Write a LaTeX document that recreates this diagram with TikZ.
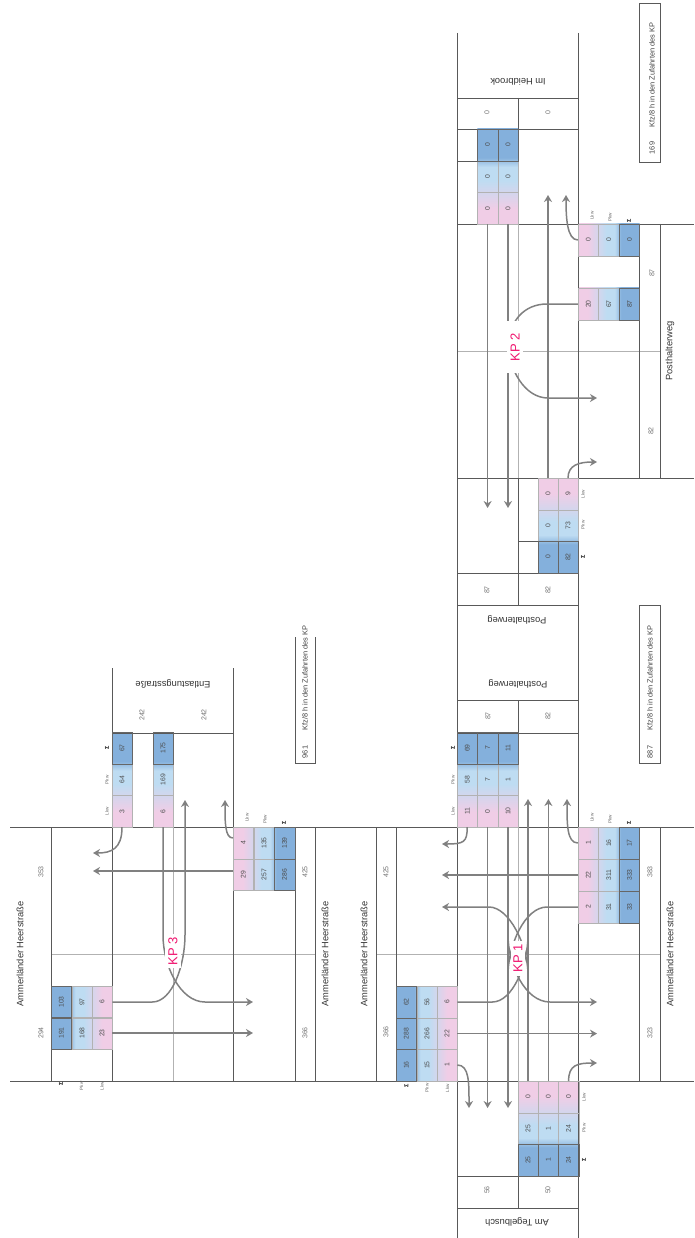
\documentclass[tikz,border=0pt]{standalone}
\usepackage{fontspec}
\setmainfont{Liberation Sans}
\usetikzlibrary{arrows.meta}
\definecolor{lkwpink}{HTML}{F0CDE6}
\definecolor{pkwblue}{HTML}{BEDCF2}
\definecolor{sumblue}{HTML}{84B0DC}
\definecolor{kpred}{HTML}{F0146E}
\pgfdeclareverticalshading{tablecolours}{100bp}{color(0bp)=(lkwpink); color(33bp)=(lkwpink); color(48bp)=(pkwblue); color(55bp)=(pkwblue); color(60bp)=(sumblue); color(100bp)=(sumblue)}
\begin{document}
\begin{tikzpicture}[x=1pt,y=-1pt,
    roadline/.style={draw=black!65,line width=.7pt},
    midline/.style={draw=black!30,line width=.7pt},
    lkwdown/.style={shading=tablecolours},
    lkwup/.style={shading=tablecolours,shading angle=180},
    lkwright/.style={shading=tablecolours,shading angle=90},
    lkwleft/.style={shading=tablecolours,shading angle=270},
    cell/.style={rotate=90,draw=black!30,line width=.3pt,minimum width=31.6pt,minimum height=20.4pt,inner sep=0pt,text=black!70,font=\fontsize{6.8}{7}\selectfont},
    sumcell/.style={cell,draw=black!60,line width=.4pt},
    flow/.style={draw=black!50,line width=1.5pt,-{Stealth[length=7pt,width=8pt]}},
    plain/.style={draw=black!50,line width=1.5pt},
    armcount/.style={rotate=90,text=black!55,inner sep=0pt,font=\fontsize{7}{8}\selectfont},
    collabel/.style={rotate=90,text=black!60,inner sep=0pt,font=\fontsize{4.6}{5}\selectfont},
    sumlabel/.style={rotate=90,text=black,inner sep=0pt,font=\fontsize{5.5}{6}\selectfont\bfseries},
    roadname/.style={rotate=90,text=black!80,inner sep=0pt,font=\fontsize{9.3}{10}\selectfont},
    armname/.style={rotate=180,text=black!80,inner sep=0pt,font=\fontsize{9.3}{10}\selectfont},
    kp/.style={rotate=90,fill=white,text=kpred,inner xsep=3pt,inner ysep=3pt,font=\fontsize{13}{14}\selectfont},
    boxtext/.style={rotate=90,text=black!75,inner sep=0pt,font=\fontsize{7.4}{8}\selectfont}]
\useasboundingbox (0,0) rectangle (694,1238);

% colours of the tables
\shade[lkwdown] (112,733) rectangle (132,827);
\shade[lkwdown] (153,733) rectangle (173,827);
\shade[lkwdown] (457,733) rectangle (518,827);
\shade[lkwdown] (477.4,129) rectangle (518,224);
\shade[lkwleft] (233,827) rectangle (295,890);
\shade[lkwleft] (578,827) rectangle (639.5,923);
\shade[lkwleft] (578,224) rectangle (639.5,256);
\shade[lkwleft] (578,288) rectangle (639.5,320);
\shade[lkwup] (518,1081) rectangle (578.6,1176);
\shade[lkwup] (538,478) rectangle (578,573);
\shade[lkwright] (51,986) rectangle (112,1049);
\shade[lkwright] (396,986) rectangle (457,1081);

% lines of the roads
\draw[roadline] (10,827) -- (694,827);
\draw[roadline] (10,1081) -- (694,1081);
\draw[roadline] (457,224) -- (694,224);
\draw[roadline] (457,478) -- (694,478);
\draw[midline] (51,954) -- (315,954);
\draw[midline] (376,954) -- (660,954);
\draw[midline] (457,351) -- (660,351);
\draw[midline] (173,827) -- (173,1081);
\draw[midline] (518,827) -- (518,1081);
\draw[midline] (518,224) -- (518,478);
\foreach \x in {51,295,315,376,396,639,660}
    \draw[roadline] (\x,827) -- (\x,1081);
\draw[roadline] (639,224) -- (639,478);
\draw[roadline] (660,224) -- (660,478);
\draw[roadline] (112,668) -- (112,1081);
\draw[roadline] (233,668) -- (233,1081);
\draw[roadline] (457,33) -- (457,1238);
\draw[roadline] (578,33) -- (578,1238);
\draw[roadline] (112,733) -- (233,733);
\foreach \y in {98,129,573,605,700,733,1176,1208}
    \draw[roadline] (457,\y) -- (578,\y);
\draw[roadline] (518,98) -- (518,129);
\draw[roadline] (457,161) -- (518,161);
\draw[roadline] (518,478) -- (518,605);
\draw[roadline] (518,541) -- (538,541);
\draw[roadline] (518,700) -- (518,733);
\draw[roadline] (518,1176) -- (518,1208);

% KP 3
\foreach \r/\x/\l/\p/\s in {1/122/3/64/67,2/163/6/169/175} {
    \node[cell] (k3el\r) at (\x,811.2) {\l};
    \node[cell] (k3ep\r) at (\x,779.6) {\p};
    \node[sumcell] (k3es\r) at (\x,748) {\s};
}
\foreach \r/\y/\l/\p/\s in {1/843/4/135/139,2/874.6/29/257/286} {
    \node[cell] (k3sl\r) at (243.2,\y) {\l};
    \node[cell] (k3sp\r) at (264,\y) {\p};
    \node[sumcell] (k3ss\r) at (284.6,\y) {\s};
}
\foreach \r/\y/\l/\p/\s in {1/1002/6/97/103,2/1033/23/168/191} {
    \node[cell] (k3nl\r) at (102,\y) {\l};
    \node[cell] (k3np\r) at (82,\y) {\p};
    \node[sumcell] (k3ns\r) at (61.4,\y) {\s};
}

% KP 1
\foreach \r/\x/\l/\p/\s in {1/467.2/11/58/69,2/487.6/0/7/7,3/508/10/1/11} {
    \node[cell] (k1el\r) at (\x,811.2) {\l};
    \node[cell] (k1ep\r) at (\x,779.6) {\p};
    \node[sumcell] (k1es\r) at (\x,748) {\s};
}
\foreach \r/\y/\l/\p/\s in {1/843/1/16/17,2/875/22/311/333,3/907/2/31/33} {
    \node[cell] (k1sl\r) at (588.2,\y) {\l};
    \node[cell] (k1sp\r) at (608.8,\y) {\p};
    \node[sumcell] (k1ss\r) at (629.4,\y) {\s};
}
\foreach \r/\y/\l/\p/\s in {1/1002/6/56/62,2/1033.6/22/266/288,3/1065/1/15/16} {
    \node[cell] (k1nl\r) at (447,\y) {\l};
    \node[cell] (k1np\r) at (427,\y) {\p};
    \node[sumcell] (k1ns\r) at (406.4,\y) {\s};
}
\foreach \r/\x/\l/\p/\s in {1/528/0/25/25,2/548.4/0/1/1,3/568.6/0/24/24} {
    \node[cell] (k1wl\r) at (\x,1097) {\l};
    \node[cell] (k1wp\r) at (\x,1128.5) {\p};
    \node[sumcell] (k1ws\r) at (\x,1160) {\s};
}

% KP 2
\foreach \r/\x/\l/\p/\s in {1/487.6/0/0/0,2/508/0/0/0} {
    \node[cell] (k2el\r) at (\x,208.2) {\l};
    \node[cell] (k2ep\r) at (\x,176.6) {\p};
    \node[sumcell] (k2es\r) at (\x,145) {\s};
}
\foreach \r/\y/\l/\p/\s in {1/240/0/0/0,2/304/20/67/87} {
    \node[cell] (k2sl\r) at (588.2,\y) {\l};
    \node[cell] (k2sp\r) at (608.8,\y) {\p};
    \node[sumcell] (k2ss\r) at (629.4,\y) {\s};
}
\foreach \r/\x/\l/\p/\s in {1/548/0/0/0,2/568/9/73/82} {
    \node[cell] (k2wl\r) at (\x,494) {\l};
    \node[cell] (k2wp\r) at (\x,525.5) {\p};
    \node[sumcell] (k2ws\r) at (\x,557) {\s};
}

% Lkw, Pkw, Sigma at the tables
\foreach \n/\x in {k3e/107,k1e/453} {
    \node[collabel] (\n lkw) at (\x,811) {Lkw};
    \node[collabel] (\n pkw) at (\x,780) {Pkw};
    \node[sumlabel] (\n sum) at (\x,748) {Σ};
}
\foreach \n/\h/\y in {k3s/233/825,k1s/578/825,k2s/578/223} {
    \node[collabel,anchor=west] (\n lkw) at (\h+14,\y-3) {Lkw};
    \node[collabel,anchor=west] (\n pkw) at (\h+32,\y-1) {Pkw};
    \node[sumlabel,anchor=west] (\n sum) at (\h+51,\y) {Σ};
}
\foreach \n/\h/\y in {k3n/61/1086,k1n/406.5/1088} {
    \node[sumlabel] (\n sum) at (\h,\y-2) {Σ};
    \node[collabel] (\n pkw) at (\h+20.5,\y) {Pkw};
    \node[collabel] (\n lkw) at (\h+41,\y) {Lkw};
}
\foreach \n/\x/\y in {k1w/584/1081,k2w/583/478} {
    \node[collabel] (\n lkw) at (\x,\y+16) {Lkw};
    \node[collabel] (\n pkw) at (\x,\y+47) {Pkw};
    \node[sumlabel] (\n sum) at (\x,\y+79) {Σ};
}

% traffic at the arms
\foreach \n/\x/\y/\t in {c1/142/715/242,c2/204/715/242,c3/41/872/353,c4/305/872/425,c5/41/1033/294,c6/305/1033/366,
    c7/386/872/425,c8/650/872/383,c9/386/1032/366,c10/650/1033/323,c11/488/716/87,c12/548/716/82,c13/487/1190/56,c14/548/1190/50,
    c15/652/273/87,c16/651/431/82,c17/487/113/0,c18/548/113/0,c19/487/590/87,c20/548/590/82}
    \node[armcount] (\n) at (\x,\y) {\t};

% names of the roads
\foreach \n/\x in {ra/20,rb/325,rc/364,rd/670}
    \node[roadname] (\n) at (\x,954) {Ammerländer Heerstraße};
\node[roadname] (re) at (670,351) {Posthalterweg};
\node[armname] (rf) at (173,684) {Entlastungsstraße};
\node[armname] (rg) at (518,684) {Posthalterweg};
\node[armname] (rh) at (517,620) {Posthalterweg};
\node[armname] (ri) at (518,82) {Im Heidbrook};
\node[armname] (rj) at (517,1222) {Am Tegelbusch};

% ends of the arrows
\foreach \n/\x/\y in {t3e/93/853,t3s/93/871,t3a/185/800,t3b/225/800,t3c/253/1002,t3d/253/1033,
    t1a/442/844,t1b/442/875,t1c/442/907,t1d/469/1108,t1e/487.6/1108,t1f/508/1108,t1g/528/799,t1h/548.4/799,t1i/567/799,t1j/597/1002,t1k/597/1033.6,t1l/597/1063,
    t2a/487.6/508,t2b/508/508,t2c/548/195,t2d/566/195,t2e/597/398,t2f/597/462,
    b1a/508/935,b1b/528/975,b1c/528/935,b1d/508/975,b2a/508/340,b2b/508/350}
    \coordinate (\n) at (\x,\y);

% KP 3 arrows
\draw[flow] (k3el1.west) .. controls +(0,22) and +(18,0) .. (t3e);
\draw[flow] (k3sl2.north |- t3s) -- (t3s);
\draw[flow] ([yshift=5pt]k3sl1.north) .. controls +(-8,0) and +(0,22) .. (t3b);
\draw[flow] (k3el2.west) -- ++(0,108) .. controls +(0,30) and (180,1002) .. (205,1002) -- (t3c);
\draw[flow] (k3nl1.south) -- ++(40,0) .. controls +(20,0) and (185,965) .. (185,935) -- (t3a);
\draw[flow] (k3nl2.south) -- (t3d);

% KP 1 arrows
\draw[flow] (k1el1.west) .. controls +(0,15) and +(22,0) .. (t1a);
\draw[flow] (k1el2.west) -- (t1e);
\draw[flow] (k1el3.west) -- (t1f);
\draw[flow] (k1sl1.north) .. controls +(-11,0) and +(0,25) .. (t1i);
\draw[flow] (k1sl2.north) -- (t1b);
\draw[flow] (k1wl1.east) -- (t1g);
\draw[flow] (k1wl2.east) -- (t1h);
\draw[flow] (k1wl3.east) .. controls +(0,-16) and +(-20,0) .. (t1l);
\draw[flow] (k1nl2.south) -- (t1k);
\draw[flow] (k1nl3.south) .. controls +(12,0) and +(0,-25) .. (t1d);
\draw[flow] (b1a) .. controls +(0,30) and (525,1002) .. (550,1002) -- (t1j);
\draw[plain] (k1nl1.south) -- ++(35,0) .. controls +(20,0) and +(0,30) .. (b1c);
\draw[plain] (k1sl3.north) -- (547,907) .. controls (525,907) and +(0,-30) .. (b1d);
\draw[flow] (b1b) .. controls +(0,-30) and (509,907) .. (489,907) -- (t1c);

% KP 2 arrows
\draw[flow] (k2el1.west) -- (t2a);
\draw[flow] (k2el2.west) -- (t2b);
\draw[flow] (k2wl1.east) -- (t2c);
\draw[flow] (k2sl1.north) .. controls +(-11,0) and +(0,22) .. (t2d);
\draw[flow] (k2wl2.east) .. controls +(0,-13) and +(-18,0) .. (t2f);
\draw[flow] (b2a) .. controls +(0,30) and (525,398) .. (548,398) -- (t2e);
\draw[plain] (k2sl2.north) -- (547,304) .. controls (525,304) and +(0,-30) .. (b2b);

% names of the junctions
\node[kp] (kp3) at (173,951) {KP 3};
\node[kp] (kp1) at (518,958.5) {KP 1};
\node[kp,minimum width=52pt] (kp2) at (515,347) {KP 2};

% totals
\draw[roadline] (295,637) -- (295,763) -- (315,763) -- (315,637);
\node[boxtext] (sum3) at (305,752) {961};
\node[boxtext] (txt3) at (305,678) {Kfz/8 h in den Zufahrten des KP};
\draw[roadline] (639.5,605) rectangle (660,763);
\node[boxtext] (sum1) at (650,752) {887};
\node[boxtext] (txt1) at (650,678) {Kfz/8 h in den Zufahrten des KP};
\draw[roadline] (639.5,3) rectangle (660,162);
\node[boxtext] (sum2) at (652,148) {169};
\node[boxtext] (txt2) at (652,75) {Kfz/8 h in den Zufahrten des KP};
\end{tikzpicture}
\end{document}
